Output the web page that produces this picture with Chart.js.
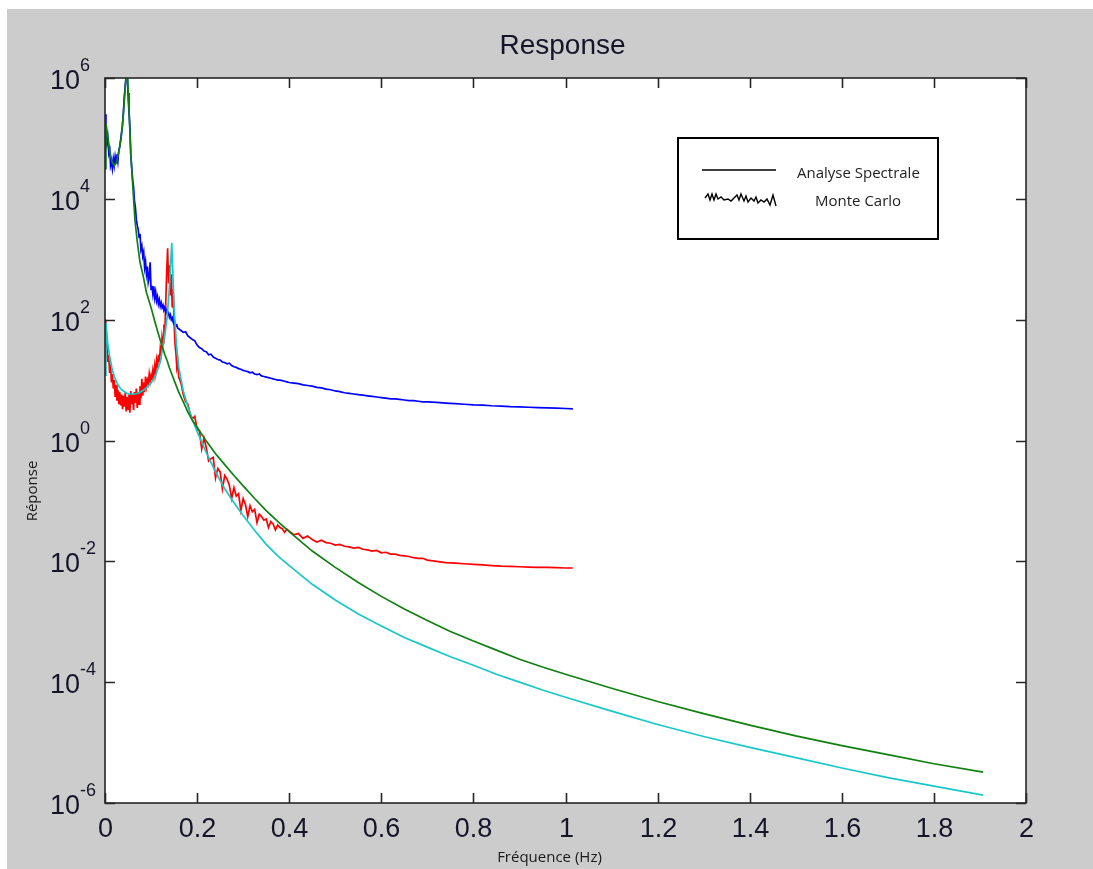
<!DOCTYPE html>
<html>
<head>
<meta charset="utf-8">
<title>Response</title>
<script src="https://cdn.jsdelivr.net/npm/chart.js@4.4.1/dist/chart.umd.min.js"></script>
<style>
  html, body { margin: 0; padding: 0; background: #ffffff; }
  #wrap { position: absolute; left: 0; top: 0; width: 1093px; height: 869px; }
</style>
</head>
<body>
<div id="wrap"><canvas id="responseChart" width="1093" height="869"></canvas></div>
<script>
// Response chart - spectral analysis vs Monte Carlo
// All response values are stored as log10

const xTickValues = [0, 0.2, 0.4, 0.6, 0.8, 1, 1.2, 1.4, 1.6, 1.8, 2];
const yTickExponents = [-6, -4, -2, 0, 2, 4, 6];

// Analyse Spectrale (smooth curves)
const freqSA = [
  0, 0.002, 0.006, 0.01, 0.015, 0.02, 0.025, 0.03, 0.035, 0.04,
  0.044, 0.048, 0.052, 0.056, 0.06, 0.065, 0.07, 0.076, 0.083, 0.09,
  0.1, 0.11, 0.12, 0.13, 0.135, 0.14, 0.145, 0.15, 0.155, 0.16,
  0.17, 0.18, 0.19, 0.2, 0.22, 0.24, 0.26, 0.28, 0.3, 0.325,
  0.35, 0.375, 0.4, 0.45, 0.5, 0.55, 0.6, 0.65, 0.7, 0.75,
  0.8, 0.85, 0.9, 0.95, 1.0, 1.1, 1.2, 1.3, 1.4, 1.5,
  1.6, 1.7, 1.8, 1.907
];
const greenLog = [
  4.50, 5.25, 5.05, 4.80, 4.62, 4.55, 4.60, 4.78, 5.00, 5.40,
  5.85, 6.20, 5.50, 4.75, 4.25, 3.65, 3.30, 2.95, 2.72, 2.45,
  2.20, 1.92, 1.66, 1.42, 1.32, 1.20, 1.10, 1.00, 0.90, 0.80,
  0.64, 0.47, 0.33, 0.22, -0.01, -0.22, -0.40, -0.58, -0.75, -0.96,
  -1.16, -1.34, -1.51, -1.83, -2.10, -2.35, -2.58, -2.79, -2.98, -3.16,
  -3.32, -3.47, -3.62, -3.75, -3.87, -4.10, -4.32, -4.52, -4.71, -4.89,
  -5.05, -5.20, -5.35, -5.49
];
const cyanLog = [
  1.08, 1.95, 1.60, 1.40, 1.20, 1.06, 0.97, 0.90, 0.85, 0.82,
  0.80, 0.78, 0.77, 0.77, 0.77, 0.77, 0.78, 0.80, 0.83, 0.87,
  0.95, 1.08, 1.30, 1.75, 2.05, 2.55, 3.27, 2.20, 1.60, 1.22,
  0.82, 0.56, 0.34, 0.15, -0.20, -0.52, -0.80, -1.03, -1.24, -1.49,
  -1.72, -1.91, -2.07, -2.38, -2.64, -2.87, -3.07, -3.26, -3.42, -3.58,
  -3.72, -3.87, -4.00, -4.13, -4.25, -4.48, -4.70, -4.90, -5.08, -5.25,
  -5.42, -5.58, -5.72, -5.87
];

// Monte Carlo (noisy curves)
const freqMC = [
  0, 0.002, 0.004, 0.006, 0.008, 0.01, 0.012, 0.014, 0.016, 0.018,
  0.02, 0.022, 0.024, 0.026, 0.028, 0.03, 0.032, 0.034, 0.036, 0.038,
  0.04, 0.042, 0.044, 0.046, 0.048, 0.05, 0.052, 0.054, 0.056, 0.058,
  0.06, 0.062, 0.064, 0.066, 0.068, 0.07, 0.072, 0.074, 0.076, 0.078,
  0.08, 0.082, 0.084, 0.086, 0.088, 0.09, 0.092, 0.094, 0.096, 0.098,
  0.1, 0.102, 0.104, 0.106, 0.108, 0.11, 0.112, 0.114, 0.116, 0.118,
  0.12, 0.122, 0.124, 0.126, 0.128, 0.13, 0.132, 0.134, 0.136, 0.138,
  0.14, 0.142, 0.144, 0.146, 0.148, 0.15, 0.152, 0.154, 0.156, 0.158,
  0.16,
  0.165, 0.17, 0.175, 0.18, 0.185, 0.19, 0.195, 0.2, 0.205, 0.21,
  0.215, 0.22, 0.225, 0.23, 0.235, 0.24, 0.245, 0.25, 0.255, 0.26,
  0.265, 0.27, 0.275, 0.28, 0.285, 0.29, 0.295, 0.3, 0.305, 0.31,
  0.315, 0.32, 0.325, 0.33, 0.335, 0.34, 0.345, 0.35, 0.355, 0.36,
  0.365, 0.37, 0.375, 0.38, 0.385, 0.39, 0.395, 0.4,
  0.41, 0.42, 0.43, 0.44, 0.45, 0.46, 0.47, 0.48, 0.49, 0.5,
  0.51, 0.52, 0.53, 0.54, 0.55, 0.56, 0.57, 0.58, 0.59, 0.6,
  0.61, 0.62, 0.63, 0.64, 0.65, 0.66, 0.67, 0.68, 0.69, 0.7,
  0.72, 0.74, 0.76, 0.78, 0.8, 0.82, 0.84, 0.86, 0.88, 0.9,
  0.92, 0.94, 0.96, 0.98, 1.0, 1.016
];
const blueLog = [
  5.40, 5.10, 4.92, 5.02, 4.78, 4.88, 4.55, 4.62, 4.50, 4.66,
  4.55, 4.70, 4.60, 4.74, 4.62, 4.80, 4.86, 4.98, 5.10, 5.22,
  5.45, 5.70, 5.88, 6.05, 6.10, 5.75, 5.45, 5.20, 4.72, 4.52,
  4.32, 4.20, 3.96, 3.86, 3.66, 3.56, 3.50, 3.36, 3.42, 3.16,
  3.22, 3.05, 3.12, 2.86, 2.96, 2.76, 2.88, 2.62, 2.70, 2.95,
  2.50, 2.56, 2.42, 2.55, 2.36, 2.46, 2.31, 2.38, 2.26, 2.33,
  2.22, 2.28, 2.20, 2.24, 2.16, 2.19, 2.12, 2.16, 2.08, 2.11,
  2.04, 2.08, 2.00, 2.03, 1.96, 1.92, 1.95, 1.89, 1.91, 1.86,
  1.85,
  1.82, 1.79, 1.80, 1.73, 1.70, 1.67, 1.65, 1.58, 1.54, 1.52,
  1.48, 1.47, 1.42, 1.43, 1.38, 1.36, 1.34, 1.33, 1.30, 1.29,
  1.27, 1.28, 1.24, 1.22, 1.21, 1.19, 1.18, 1.16, 1.15, 1.14,
  1.12, 1.13, 1.10, 1.09, 1.10, 1.07, 1.06, 1.05, 1.04, 1.03,
  1.02, 1.01, 1.00, 1.00, 0.99, 0.98, 0.97, 0.96,
  0.95, 0.94, 0.92, 0.91, 0.90, 0.88, 0.87, 0.85, 0.84, 0.82,
  0.81, 0.79, 0.78, 0.77, 0.76, 0.75, 0.74, 0.73, 0.72, 0.71,
  0.70, 0.69, 0.69, 0.68, 0.67, 0.66, 0.66, 0.65, 0.64, 0.64,
  0.63, 0.62, 0.61, 0.60, 0.59, 0.585, 0.575, 0.57, 0.56, 0.555,
  0.55, 0.545, 0.54, 0.535, 0.53, 0.525
];
const redLog = [
  2.00, 1.72, 1.58, 1.30, 1.42, 1.12, 1.26, 0.96, 1.10, 0.86,
  1.00, 0.72, 0.92, 0.66, 0.84, 0.60, 0.80, 0.58, 0.76, 0.52,
  0.74, 0.56, 0.80, 0.48, 0.72, 0.52, 0.76, 0.46, 0.82, 0.60,
  0.76, 0.50, 0.80, 0.62, 0.86, 0.54, 0.80, 0.60, 0.90, 0.70,
  1.02, 0.74, 0.96, 0.80, 1.06, 0.90, 1.00, 0.94, 1.10, 0.98,
  1.08, 1.00, 1.16, 1.06, 1.24, 1.12, 1.32, 1.20, 1.42, 1.30,
  1.52, 1.44, 1.72, 1.62, 1.92, 1.80, 2.30, 2.80, 3.18, 2.60,
  2.90, 2.40, 2.75, 2.20, 2.50, 1.95, 1.60, 1.45, 1.20, 1.28,
  1.05,
  0.95, 0.76, 0.64, 0.60, 0.44, 0.36, 0.40, 0.18, 0.16, -0.14,
  0.04, -0.12, -0.34, -0.30, -0.28, -0.62, -0.46, -0.52, -0.80, -0.58,
  -0.64, -0.74, -0.96, -0.78, -0.92, -0.88, -1.16, -0.96, -1.06, -1.26,
  -1.08, -1.18, -1.14, -1.36, -1.22, -1.26, -1.32, -1.30, -1.44, -1.34,
  -1.38, -1.48, -1.40, -1.44, -1.46, -1.52, -1.47, -1.50,
  -1.56, -1.54, -1.62, -1.58, -1.64, -1.68, -1.65, -1.69, -1.70, -1.73,
  -1.72, -1.75, -1.76, -1.78, -1.77, -1.80, -1.81, -1.83, -1.82, -1.86,
  -1.85, -1.88, -1.88, -1.90, -1.91, -1.92, -1.94, -1.95, -1.95, -1.98,
  -2.00, -2.02, -2.03, -2.04, -2.05, -2.06, -2.07, -2.08, -2.085, -2.09,
  -2.095, -2.10, -2.10, -2.105, -2.11, -2.11
];

const legendLabels = ['Analyse Spectrale', 'Monte Carlo'];

function toPoints(freqs, logs) {
    return freqs.map((f, i) => ({ x: f, y: Math.pow(10, logs[i]) }));
}

function formatX(v) {
    return String(Math.round(v * 10) / 10);
}

const tickFont = '"Liberation Sans", Arial, Helvetica, sans-serif';
const textFont = '"Open Sans", "Noto Sans", sans-serif';

// draws the Matlab style frame, ticks, labels and the boxed legend
const matlabFrame = {
    id: 'matlabFrame',
    beforeDraw(chart) {
        const { ctx, chartArea: a } = chart;
        ctx.save();
        ctx.fillStyle = '#ffffff';
        ctx.fillRect(0, 0, chart.width, chart.height);
        ctx.fillStyle = '#cccccc';
        ctx.fillRect(7, 9, chart.width - 7, chart.height - 9);
        ctx.fillStyle = '#ffffff';
        ctx.fillRect(a.left, a.top, a.right - a.left, a.bottom - a.top);
        ctx.restore();
    },
    afterDraw(chart) {
        const { ctx, chartArea: a } = chart;
        const xs = chart.scales.x;
        const ys = chart.scales.y;
        ctx.save();

        // axes box
        ctx.strokeStyle = '#262626';
        ctx.lineWidth = 1.6;
        ctx.strokeRect(a.left, a.top, a.right - a.left, a.bottom - a.top);

        // x ticks + labels
        ctx.fillStyle = '#15152a';
        ctx.font = '27px ' + tickFont;
        ctx.textAlign = 'center';
        ctx.textBaseline = 'alphabetic';
        xs.ticks.forEach(t => {
            const px = Math.round(xs.getPixelForValue(t.value)) + 0.5;
            ctx.beginPath();
            ctx.moveTo(px, a.bottom);
            ctx.lineTo(px, a.bottom - 10);
            ctx.moveTo(px, a.top);
            ctx.lineTo(px, a.top + 10);
            ctx.stroke();
            ctx.fillText(formatX(t.value), px, a.bottom + 34);
        });

        // y ticks + 10^n labels
        ctx.textAlign = 'left';
        ys.ticks.forEach(t => {
            const py = Math.round(ys.getPixelForValue(t.value)) + 0.5;
            ctx.beginPath();
            ctx.moveTo(a.left, py);
            ctx.lineTo(a.left + 10, py);
            ctx.moveTo(a.right, py);
            ctx.lineTo(a.right - 10, py);
            ctx.stroke();
            const exp = Math.round(Math.log10(t.value));
            const lx = a.left - 55;
            ctx.font = '27px ' + tickFont;
            ctx.fillText('10', lx, py + 10);
            const w = ctx.measureText('10').width;
            ctx.font = '18px ' + tickFont;
            ctx.fillText(String(exp), lx + w, py - 8);
        });

        // title
        ctx.font = '28px ' + tickFont;
        ctx.textAlign = 'center';
        ctx.fillText('Response', (a.left + a.right) / 2 - 3, 54);

        // axis titles
        ctx.fillStyle = '#1a1a1a';
        ctx.font = '15px ' + textFont;
        ctx.fillText('Fréquence (Hz)', (a.left + a.right) / 2 - 16, 862);
        ctx.save();
        ctx.translate(37, 491);
        ctx.rotate(-Math.PI / 2);
        ctx.fillText('Réponse', 0, 0);
        ctx.restore();

        // legend box
        const lx = a.left + 573;
        const ly = a.top + 60;
        ctx.fillStyle = '#ffffff';
        ctx.fillRect(lx, ly, 260, 101);
        ctx.strokeStyle = '#000000';
        ctx.lineWidth = 2;
        ctx.strokeRect(lx, ly, 260, 101);

        ctx.lineWidth = 1.4;
        ctx.beginPath();
        ctx.moveTo(lx + 24, ly + 32);
        ctx.lineTo(lx + 98, ly + 32);
        ctx.stroke();

        const zig = [[0, 60], [3, 56], [5, 62], [7, 56], [9, 62], [11, 56], [13, 61], [16, 59],
            [19, 62], [23, 61], [26, 63], [29, 60], [32, 57], [34, 62], [36, 56], [39, 63],
            [41, 58], [43, 64], [46, 60], [49, 63], [51, 59], [53, 65], [56, 62], [59, 64],
            [62, 61], [65, 67], [68, 57], [71, 68]];
        ctx.beginPath();
        zig.forEach(([dx, dy], i) => {
            if (i === 0) ctx.moveTo(lx + 27 + dx, ly + dy);
            else ctx.lineTo(lx + 27 + dx, ly + dy);
        });
        ctx.stroke();

        ctx.fillStyle = '#222222';
        ctx.font = '15px ' + textFont;
        ctx.textAlign = 'left';
        ctx.textBaseline = 'middle';
        ctx.fillText(legendLabels[0], lx + 119, ly + 36);
        ctx.fillText(legendLabels[1], lx + 137, ly + 64);

        ctx.restore();
    }
};

const ctx = document.getElementById('responseChart').getContext('2d');
const chart = new Chart(ctx, {
    type: 'line',
    data: {
        datasets: [
            { label: 'Analyse Spectrale 1', data: toPoints(freqSA, greenLog), borderColor: '#108010' },
            { label: 'Analyse Spectrale 2', data: toPoints(freqSA, cyanLog), borderColor: '#18c8c8' },
            { label: 'Monte Carlo 1', data: toPoints(freqMC, blueLog), borderColor: '#0000ff' },
            { label: 'Monte Carlo 2', data: toPoints(freqMC, redLog), borderColor: '#ff0000' }
        ]
    },
    options: {
        responsive: false,
        animation: false,
        layout: { padding: { left: 105, top: 78, right: 67, bottom: 66 } },
        plugins: {
            legend: { display: false },
            tooltip: { enabled: false },
            title: { display: false }
        },
        elements: {
            point: { radius: 0 },
            line: { tension: 0, borderWidth: 1.7, fill: false }
        },
        datasets: { line: { clip: 0 } },
        scales: {
            x: {
                type: 'linear', min: 0, max: 2, display: false,
                afterBuildTicks: (scale) => { scale.ticks = xTickValues.map(v => ({ value: v })); }
            },
            y: {
                type: 'logarithmic', min: 1e-6, max: 1e6, display: false,
                afterBuildTicks: (scale) => { scale.ticks = yTickExponents.map(e => ({ value: Math.pow(10, e) })); }
            }
        }
    },
    plugins: [matlabFrame]
});
</script>
</body>
</html>
